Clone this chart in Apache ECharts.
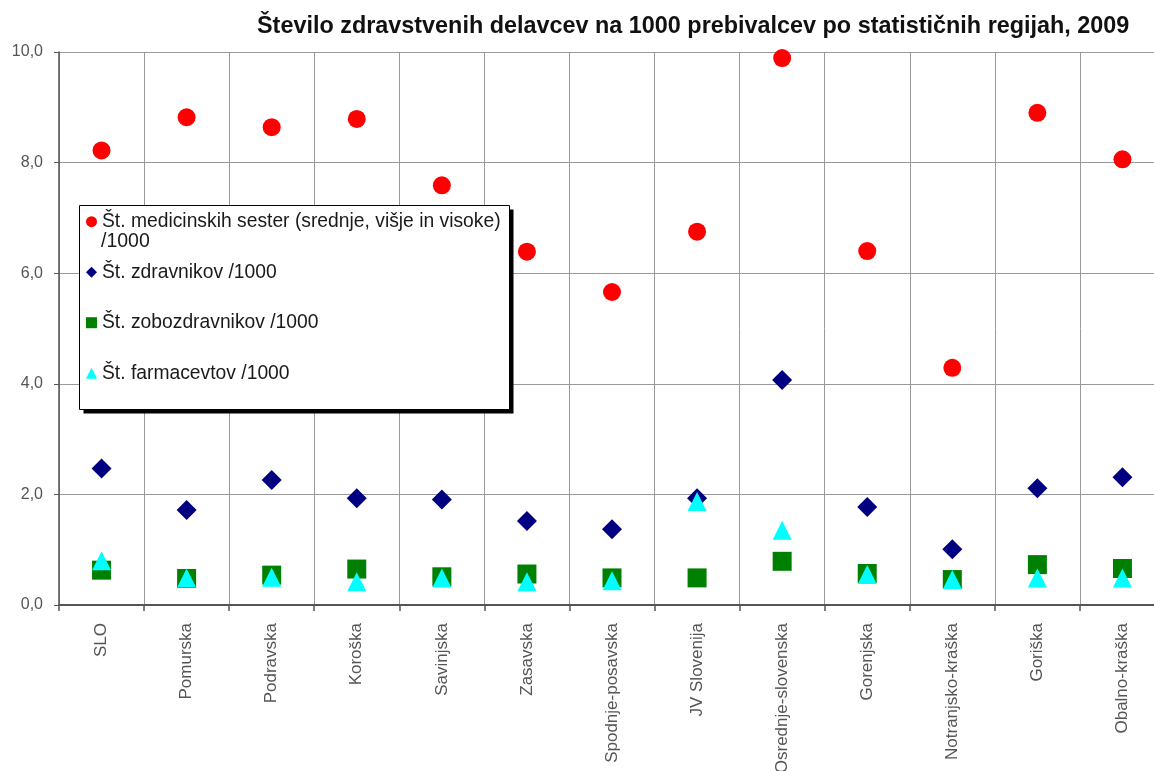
<!DOCTYPE html>
<html>
<head>
<meta charset="utf-8">
<script src="https://cdn.jsdelivr.net/npm/echarts@6/dist/echarts.min.js"></script>
<style>
html,body{margin:0;padding:0;background:#fff;}
#c{width:1154px;height:771px;}
</style>
</head>
<body>
<div id="c"></div>
<script>
const titleText = 'Število zdravstvenih delavcev na 1000 prebivalcev po statističnih regijah, 2009';
const categories = ['SLO','Pomurska','Podravska','Koroška','Savinjska','Zasavska','Spodnje-posavska','JV Slovenija','Osrednje-slovenska','Gorenjska','Notranjsko-kraška','Goriška','Obalno-kraška'];
const seriesNames = ['Št. medicinskih sester (srednje, višje in visoke)','Št. zdravnikov /1000','Št. zobozdravnikov /1000','Št. farmacevtov /1000'];
const nurses = [8.22, 8.82, 8.64, 8.79, 7.59, 6.39, 5.66, 6.75, 9.89, 6.40, 4.29, 8.90, 8.06];
const doctors = [2.47, 1.72, 2.26, 1.93, 1.91, 1.52, 1.37, 1.93, 4.07, 1.77, 1.01, 2.11, 2.31];
const dentists = [0.63, 0.48, 0.54, 0.65, 0.51, 0.56, 0.49, 0.49, 0.79, 0.57, 0.46, 0.73, 0.66];
const pharmacists = [0.80, 0.49, 0.50, 0.42, 0.49, 0.42, 0.44, 1.87, 1.35, 0.55, 0.46, 0.49, 0.49];
const yTicks = [0, 2, 4, 6, 8, 10];

const FONT = '"Liberation Sans", Arial, sans-serif';
const chart = echarts.init(document.getElementById('c'), null, {renderer: 'canvas'});

chart.setOption({
  animation: false,
  backgroundColor: '#fff',
  title: {
    text: titleText,
    left: 257,
    top: 15,
    padding: 0,
    textStyle: {fontFamily: FONT, fontSize: 23.4, fontWeight: 'bold', color: '#111'}
  },
  grid: {left: 59, right: -11, top: 52, bottom: 166, containLabel: false, outerBoundsMode: 'none'},
  graphic: [
    {
      type: 'rect', z: 89, silent: true,
      shape: {x: 83.5, y: 209.5, width: 430, height: 204},
      style: {fill: '#000'}
    },
    {
      type: 'rect', z: 90, silent: true,
      shape: {x: 79.5, y: 205.5, width: 430, height: 204},
      style: {fill: '#fff', stroke: '#000', lineWidth: 1}
    },
    {
      type: 'text', z: 101, left: 101, top: 232,
      style: {text: '/1000', font: '19.5px ' + FONT, fill: '#1a1a1a'}
    }
  ],
  legend: {
    orient: 'vertical',
    left: 86,
    top: 210.7,
    padding: 0,
    z: 100,
    itemGap: 28.5,
    itemWidth: 11,
    itemHeight: 11,
    selectedMode: false,
    textStyle: {fontFamily: FONT, fontSize: 19.3, color: '#1a1a1a', lineHeight: 22},
    data: seriesNames
  },
  xAxis: {
    type: 'category',
    data: categories,
    boundaryGap: true,
    axisLine: {lineStyle: {color: '#555', width: 2}},
    axisTick: {show: true, length: 6, lineStyle: {color: '#555', width: 1.5}},
    splitLine: {show: true, lineStyle: {color: '#999', width: 1}},
    axisLabel: {rotate: 90, margin: 18, fontFamily: FONT, fontSize: 17, color: '#555', interval: 0}
  },
  yAxis: {
    type: 'value',
    min: yTicks[0],
    max: yTicks[yTicks.length - 1],
    interval: 2,
    axisLine: {show: true, lineStyle: {color: '#555', width: 1.5}},
    axisTick: {show: true, length: 5, lineStyle: {color: '#555'}},
    splitLine: {show: true, lineStyle: {color: '#999', width: 1}},
    axisLabel: {
      margin: 16, fontFamily: FONT, fontSize: 16, color: '#555',
      formatter: v => v.toFixed(1).replace('.', ',')
    }
  },
  series: [
    {name: seriesNames[0], type: 'scatter', data: nurses, symbol: 'circle', symbolSize: 18, itemStyle: {color: '#ff0000', opacity: 1}},
    {name: seriesNames[1], type: 'scatter', data: doctors, symbol: 'diamond', symbolSize: 20, itemStyle: {color: '#000080', opacity: 1}},
    {name: seriesNames[2], type: 'scatter', data: dentists, symbol: 'rect', symbolSize: 19, itemStyle: {color: '#008000', opacity: 1}},
    {name: seriesNames[3], type: 'scatter', data: pharmacists, symbol: 'triangle', symbolSize: 19, itemStyle: {color: '#00ffff', opacity: 1}}
  ]
});
</script>
</body>
</html>
